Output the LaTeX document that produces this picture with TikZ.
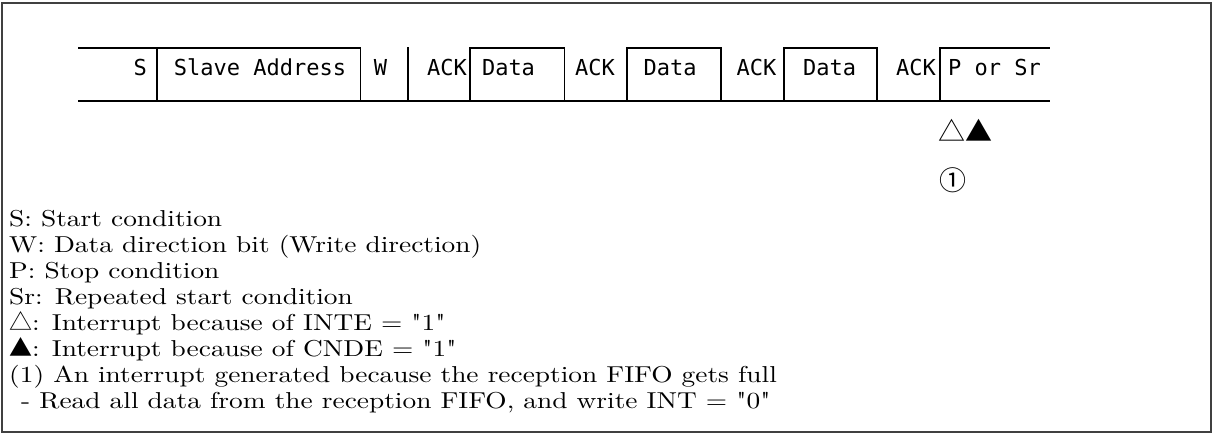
\documentclass[tikz,border=0pt]{standalone}
\usepackage{fontspec}
\newfontfamily\barfont{DejaVu Sans Mono}
\newfontfamily\cjkfont{Noto Sans CJK JP}
\newfontfamily\legfont[FakeStretch=1.19]{lmroman10-regular.otf}
\begin{document}
\begin{tikzpicture}[x=1pt,y=-1pt,
  bar/.style={line width=1.8pt, draw=black},
  frame/.style={line width=1.6pt, draw=black!75},
  cell/.style={inner sep=0pt, anchor=base, font=\barfont\fontsize{22}{22}\selectfont},
  leg/.style={inner sep=0pt, anchor=base west, font=\legfont\fontsize{23}{26}\selectfont},
  sym/.style={inner sep=0pt, font=\cjkfont\fontsize{27}{27}\selectfont}]
\newcommand\legsym[1]{{\cjkfont\fontsize{23}{26}\selectfont #1}}
\useasboundingbox (0,0) rectangle (1212,433);
\draw[frame] (2,3) rectangle (1211,432);
% cell boundaries
\foreach \n/\x in {a/78,b/157,c/360.5,d/407.6,e/469.6,f/564.5,g/627,h/720.7,i/783.6,j/877,k/940,l/1050}{
  \coordinate (\n t) at (\x,48);
  \coordinate (\n b) at (\x,100.7);
}
\draw[bar] (at) -- (ct) (et) -- (ft) (gt) -- (ht) (it) -- (jt) (kt) -- (lt);
\draw[bar] (ab) -- (lb);
\draw[bar, line cap=rect] (bt) -- (bb) (ct) -- (cb) (dt) -- (db) (et) -- (eb) (ft) -- (fb)
  (gt) -- (gb) (ht) -- (hb) (it) -- (ib) (jt) -- (jb) (kt) -- (kb);
% cell texts
\node[cell, anchor=base east] (tS) at (147,76) {S};
\node[cell] (tSA) at (260,76) {Slave Address};
\node[cell] (tW) at (380.5,76) {W};
\node[cell] (tA1) at (447,76) {ACK};
\node[cell] (tD1) at (508.5,76) {Data};
\node[cell] (tA2) at (595,76) {ACK};
\node[cell] (tD2) at (670,76) {Data};
\node[cell] (tA3) at (756.5,76) {ACK};
\node[cell] (tD3) at (829.5,76) {Data};
\node[cell] (tA4) at (916,76) {ACK};
\node[cell] (tP) at (994.5,76) {P or Sr};
% interrupt marks
\node[sym] (m1) at (951.5,130) {△};
\node[sym] (m2) at (978.5,130) {▲};
\node[sym] (c1) at (952.5,180) {①};
% legend
\node[leg] (l1) at (9,226) {S: Start condition};
\node[leg] (l2) at (9,252) {W: Data direction bit (Write direction)};
\node[leg] (l3) at (9,278) {P: Stop condition};
\node[leg] (l4) at (9,304) {Sr: Repeated start condition};
\node[leg] (l5) at (9,330) {\legsym{△}: Interrupt because of INTE = "1"};
\node[leg] (l6) at (9,356) {\legsym{▲}: Interrupt because of CNDE = "1"};
\node[leg] (l7) at (9,382) {(1) An interrupt generated because the reception FIFO gets full};
\node[leg] (l8) at (9,408) {\hspace{12pt}- Read all data from the reception FIFO, and write INT = "0"};
\end{tikzpicture}
\end{document}
